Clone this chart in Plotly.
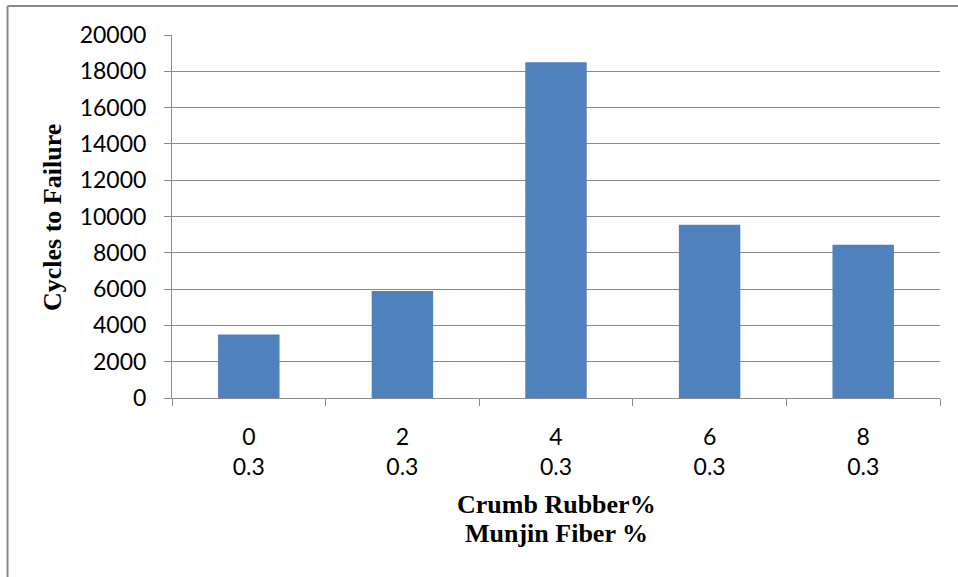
import plotly.graph_objects as go

# Cycles to failure for each crumb rubber / munjin fiber mix
crumb_rubber = ["0", "2", "4", "6", "8"]
munjin_fiber = ["0.3", "0.3", "0.3", "0.3", "0.3"]
cycles = [3500, 5890, 18500, 9550, 8450]
y_ticks = list(range(0, 20001, 2000))

W, H = 958, 577
L, R, T, B = 172, 18, 35, 179
pw, ph = W - L - R, H - T - B

def px(x):
    return (x - L) / pw

def py(y):
    return 1 - (y - T) / ph

tick_text = [f"{c}<br>{m}" for c, m in zip(crumb_rubber, munjin_fiber)]

fig = go.Figure(
    go.Bar(
        x=crumb_rubber,
        y=cycles,
        marker=dict(color="#4F81BD", line=dict(width=0)),
        width=0.4,
    )
)

grid = "#8a8a8a"
fig.update_layout(
    width=W,
    height=H,
    margin=dict(l=L, r=R, t=T, b=B),
    paper_bgcolor="white",
    plot_bgcolor="white",
    showlegend=False,
    font=dict(family="Lato, Open Sans, sans-serif", size=23, color="black"),
    xaxis=dict(
        type="category",
        tickmode="array",
        tickvals=crumb_rubber,
        ticktext=tick_text,
        tickson="boundaries",
        ticks="outside",
        ticklen=7,
        tickcolor=grid,
        showline=True,
        linecolor=grid,
        linewidth=1,
        showgrid=False,
        ticklabelstandoff=18,
        range=[-0.5, 4.5],
    ),
    yaxis=dict(
        range=[0, 20000],
        tickmode="array",
        tickvals=y_ticks,
        ticktext=[str(v) for v in y_ticks],
        ticks="outside",
        ticklen=7,
        tickcolor=grid,
        showline=True,
        linecolor=grid,
        linewidth=1,
        showgrid=True,
        gridcolor=grid,
        gridwidth=1,
        zeroline=False,
        ticklabelstandoff=13,
    ),
)

title_font = dict(family="Liberation Serif, Times New Roman, serif", size=26, color="black")

# Axis titles
fig.add_annotation(
    text="<b>Cycles to Failure</b>", textangle=-90,
    xref="paper", yref="paper", x=px(52), y=py(218),
    xanchor="center", yanchor="middle", showarrow=False, font=title_font,
)
fig.add_annotation(
    text="<b>Crumb Rubber%</b>",
    xref="paper", yref="paper", x=px(556), y=py(504),
    xanchor="center", yanchor="middle", showarrow=False, font=title_font,
)
fig.add_annotation(
    text="<b>Munjin Fiber %</b>",
    xref="paper", yref="paper", x=px(556), y=py(533),
    xanchor="center", yanchor="middle", showarrow=False, font=title_font,
)

# Chart frame: top and left edges, kept inside the page
frame = dict(color="#8a8a8a", width=2)
fig.add_shape(
    type="line", xref="paper", yref="paper",
    x0=px(7.5), x1=px(W), y0=py(6), y1=py(6), line=frame, layer="below",
)
fig.add_shape(
    type="line", xref="paper", yref="paper",
    x0=px(7.5), x1=px(7.5), y0=py(6), y1=py(H), line=frame, layer="below",
)

fig.write_html("out.html")
